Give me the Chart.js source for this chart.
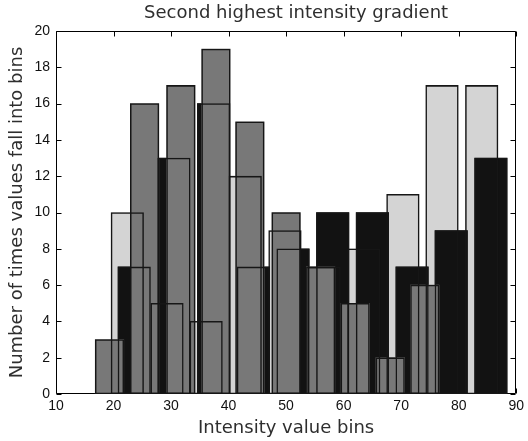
<!DOCTYPE html>
<html>
<head>
<meta charset="utf-8">
<script src="https://cdn.jsdelivr.net/npm/chart.js@4.4.1/dist/chart.umd.min.js"></script>
<style>
  html, body { margin: 0; padding: 0; background: #ffffff; }
  #wrap { width: 528px; height: 441px; }
</style>
</head>
<body>
<div id="wrap"><canvas id="c" width="528" height="441"></canvas></div>
<script>
// ---- text ----
const titleText = 'Second highest intensity gradient';
const xAxisLabel = 'Intensity value bins';
const yAxisLabel = 'Number of times values fall into bins';

// ---- tick labels ----
const xTickValues = [10, 20, 30, 40, 50, 60, 70, 80, 90];
const yTickValues = [0, 2, 4, 6, 8, 10, 12, 14, 16, 18, 20];

// ---- series (bin centres and counts) ----
const lightBinCenters = [22.4, 29.3, 36.1, 42.9, 49.8, 56.6, 63.5, 70.3, 77.1, 84.0];
const lightCounts     = [10, 5, 4, 12, 9, 7, 8, 11, 17, 17];

const blackBinCenters = [23.6, 30.5, 37.4, 44.3, 51.2, 58.1, 65.0, 71.9, 78.7, 85.6];
const blackCounts     = [7, 13, 16, 7, 8, 10, 10, 7, 9, 13];

const grayBinCenters  = [19.3, 25.4, 31.7, 37.8, 43.7, 50.0, 56.0, 62.0, 68.1, 74.1];
const grayCounts      = [3, 16, 17, 19, 15, 10, 7, 5, 2, 6];

// ---- build points ----
const toPoints = (centers, counts) => centers.map((c, i) => ({ x: c, y: counts[i] }));
const lightPts = toPoints(lightBinCenters, lightCounts);
const blackPts = toPoints(blackBinCenters, blackCounts);
const grayPts  = toPoints(grayBinCenters, grayCounts);

const faceDs = (label, data, color, thick, order) => ({
  label, data, backgroundColor: color, borderWidth: 0,
  barThickness: thick, grouped: false, order
});
const edgeDs = (label, data, thick, order) => ({
  label, data, backgroundColor: 'rgba(0,0,0,0)', borderColor: '#161616',
  borderWidth: 0.85, borderSkipped: false, barThickness: thick, grouped: false, order
});

// box + inward tick marks, drawn beneath the bars (MATLAB layer bottom)
const boxPlugin = {
  id: 'matlabBox',
  beforeDatasetsDraw(chart) {
    const { ctx, chartArea: a, scales: { x, y } } = chart;
    const L = Math.round(a.left) + 0.5, R = Math.round(a.right) - 0.5;
    const T = Math.round(a.top) + 0.5, B = Math.round(a.bottom) - 0.5;
    ctx.save();
    ctx.strokeStyle = '#000000';
    ctx.lineWidth = 1;
    ctx.beginPath();
    ctx.rect(L, T, R - L, B - T);
    y.ticks.forEach(t => {
      const py = Math.round(y.getPixelForValue(t.value)) + 0.5;
      ctx.moveTo(L, py); ctx.lineTo(L + 5, py);
      ctx.moveTo(R, py); ctx.lineTo(R - 5, py);
    });
    x.ticks.forEach(t => {
      const px = Math.round(x.getPixelForValue(t.value)) + 0.5;
      ctx.moveTo(px, T); ctx.lineTo(px, T + 5);
      ctx.moveTo(px, B); ctx.lineTo(px, B - 5);
    });
    ctx.stroke();
    ctx.restore();
  }
};

const titlePlugin = {
  id: 'plotTitle',
  afterDraw(chart) {
    const { ctx, chartArea: a } = chart;
    ctx.save();
    ctx.font = '18px "DejaVu Sans"';
    ctx.fillStyle = '#2e2e2e';
    ctx.textAlign = 'center';
    ctx.textBaseline = 'middle';
    ctx.fillText(titleText, (a.left + a.right) / 2 + 10, 13);
    ctx.restore();
  }
};

new Chart(document.getElementById('c'), {
  type: 'bar',
  data: {
    datasets: [
      edgeDs('gray edges', grayPts, 28.5, 1),
      edgeDs('black edges', blackPts, 32.5, 2),
      edgeDs('light edges', lightPts, 32.5, 3),
      faceDs('gray', grayPts, '#787878', 28.5, 4),
      faceDs('black', blackPts, '#121212', 32.5, 5),
      faceDs('light', lightPts, '#d4d4d4', 32.5, 6)
    ]
  },
  options: {
    responsive: false,
    animation: false,
    layout: { padding: { top: 31, left: 0, right: 9, bottom: 0 } },
    plugins: {
      legend: { display: false },
      tooltip: { enabled: false },
      title: { display: false }
    },
    scales: {
      x: {
        type: 'linear',
        offset: false,
        min: 10, max: 90,
        afterBuildTicks: s => { s.ticks = xTickValues.map(v => ({ value: v })); },
        afterFit: s => { s.height = 47; },
        grid: { display: false, drawTicks: false },
        border: { display: false },
        ticks: { padding: 4, color: '#111111', font: { family: 'Liberation Sans', size: 14 }, maxRotation: 0, autoSkip: false },
        title: { display: true, text: xAxisLabel, color: '#2e2e2e',
                 font: { family: 'DejaVu Sans', size: 18 }, padding: { top: 0, bottom: 2 } }
      },
      y: {
        min: 0, max: 20,
        afterBuildTicks: s => { s.ticks = yTickValues.map(v => ({ value: v })); },
        afterFit: s => { s.width = 56; },
        grid: { display: false, drawTicks: false },
        border: { display: false },
        ticks: { padding: 6, color: '#111111', font: { family: 'Liberation Sans', size: 14 } },
        title: { display: true, text: yAxisLabel, color: '#2e2e2e',
                 font: { family: 'DejaVu Sans', size: 18 }, padding: { top: 7, bottom: 0 } }
      }
    }
  },
  plugins: [boxPlugin, titlePlugin]
});
</script>
</body>
</html>
